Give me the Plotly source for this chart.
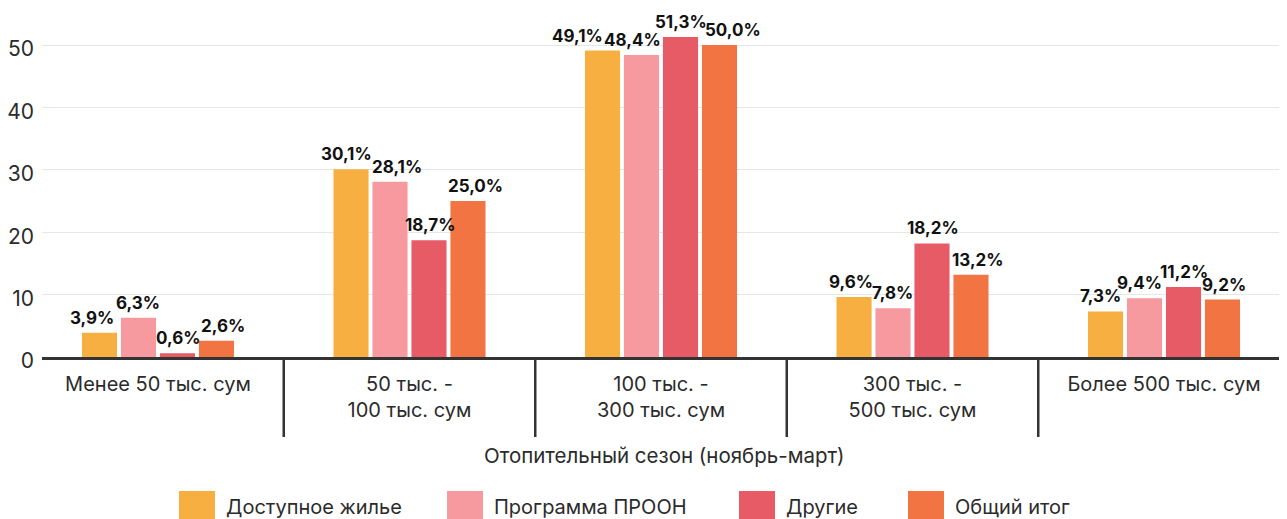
import plotly.graph_objects as go

categories = ["Менее 50 тыс. сум", "50 тыс. -<br>100 тыс. сум", "100 тыс. -<br>300 тыс. сум",
              "300 тыс. -<br>500 тыс. сум", "Более 500 тыс. сум"]
series_names = ["Доступное жилье", "Программа ПРООН", "Другие", "Общий итог"]
dostupnoe = [3.9, 30.1, 49.1, 9.6, 7.3]
proon = [6.3, 28.1, 48.4, 7.8, 9.4]
drugie = [0.6, 18.7, 51.3, 18.2, 11.2]
itog = [2.6, 25.0, 50.0, 13.2, 9.2]
series_values = [dostupnoe, proon, drugie, itog]
colors = ["#F8AF42", "#F69A9F", "#E75B67", "#F37443"]
y_ticks = [0, 10, 20, 30, 40, 50]
x_title = "Отопительный сезон (ноябрь-март)"

# horizontal nudges (px) of value labels to avoid collisions (style only)
label_nudge = [[-5.5, -3.5, -23.5, -2, -3.5],
               [0, 7, -8.5, 0, -4.5],
               [0, 0, 0, 0, 0],
               [5, 6, 12, 5, 0]]

FONT = "Inter"
TXT = "#2b2b2b"

# page has an 8px body margin; figure is laid out in page pixels
PAGE_W, PAGE_H, OFF = 1287, 519, 8
W, H = PAGE_W - OFF, PAGE_H - OFF
PL, PR, PT, PB = 42, 1287, 10, 357  # plot area in page pixels
ml, mr, mt, mb = PL - OFF, PAGE_W - PR, PT - OFF, PAGE_H - PB
ph = PB - PT
pw = PR - PL


def py(p):  # page pixel y -> paper y
    return (PB - p) / ph


def px(p):  # page pixel x -> paper x
    return (p - PL) / pw


fig = go.Figure()
xs = list(range(len(categories)))
for name, vals, col in zip(series_names, series_values, colors):
    fig.add_trace(go.Bar(x=xs, y=vals, name=name, marker_color=col,
                         marker_line_width=0, showlegend=False, hoverinfo="y+name"))

annotations = []
n = len(series_names)
slot_px = 40
for si, vals in enumerate(series_values):
    for ci, v in enumerate(vals):
        annotations.append(dict(
            x=ci, y=v, xref="x", yref="y", text=f"{v:.1f}".replace(".", ",") + "%",
            showarrow=False, xanchor="center", yanchor="bottom",
            xshift=(si - (n - 1) / 2) * slot_px + label_nudge[si][ci], yshift=3,
            font=dict(family=FONT, size=17, color="#111", weight="bold")))

shapes = []
for i in range(len(categories) - 1):
    shapes.append(dict(type="line", xref="x", yref="paper", x0=i + 0.5, x1=i + 0.5,
                       y0=0, y1=py(437), line=dict(color="#333", width=2.5)))

annotations.append(dict(text=x_title, xref="paper", yref="paper", x=0.5, y=py(456),
                        xanchor="center", yanchor="middle", showarrow=False,
                        font=dict(family=FONT, size=20.5, color=TXT)))

legend_swatch_x = [179, 447, 739, 908]
for name, col, sx in zip(series_names, colors, legend_swatch_x):
    shapes.append(dict(type="rect", xref="paper", yref="paper", x0=px(sx), x1=px(sx + 36),
                       y0=py(522), y1=py(491), fillcolor=col, line_width=0))
    annotations.append(dict(text=name, xref="paper", yref="paper", x=px(sx + 45), y=py(507),
                            xanchor="left", yanchor="middle", showarrow=False,
                            font=dict(family=FONT, size=20, color=TXT)))

fig.update_layout(
    width=W, height=H, margin=dict(l=ml, r=mr, t=mt, b=mb, autoexpand=False),
    plot_bgcolor="white", paper_bgcolor="white",
    barmode="group", bargap=0.38, bargroupgap=0.1,
    font=dict(family=FONT, color=TXT),
    shapes=shapes, annotations=annotations,
    xaxis=dict(tickmode="array", tickvals=xs, ticktext=categories,
               range=[-0.4612, 4.489], showline=True, linecolor="#333", linewidth=2.5,
               showgrid=False, ticks="", ticklabelstandoff=7,
               tickfont=dict(family=FONT, size=20, color=TXT), automargin=False),
    yaxis=dict(range=[0, (PB - PT) / 6.24], tickvals=y_ticks, showgrid=True, gridcolor="#e6e6e6",
               gridwidth=1, zeroline=False, showline=False, ticks="",
               ticklabelstandoff=7, ticklabelshift=4,
               tickfont=dict(family=FONT, size=21, color=TXT), automargin=False),
)

fig.write_html("out.html")
